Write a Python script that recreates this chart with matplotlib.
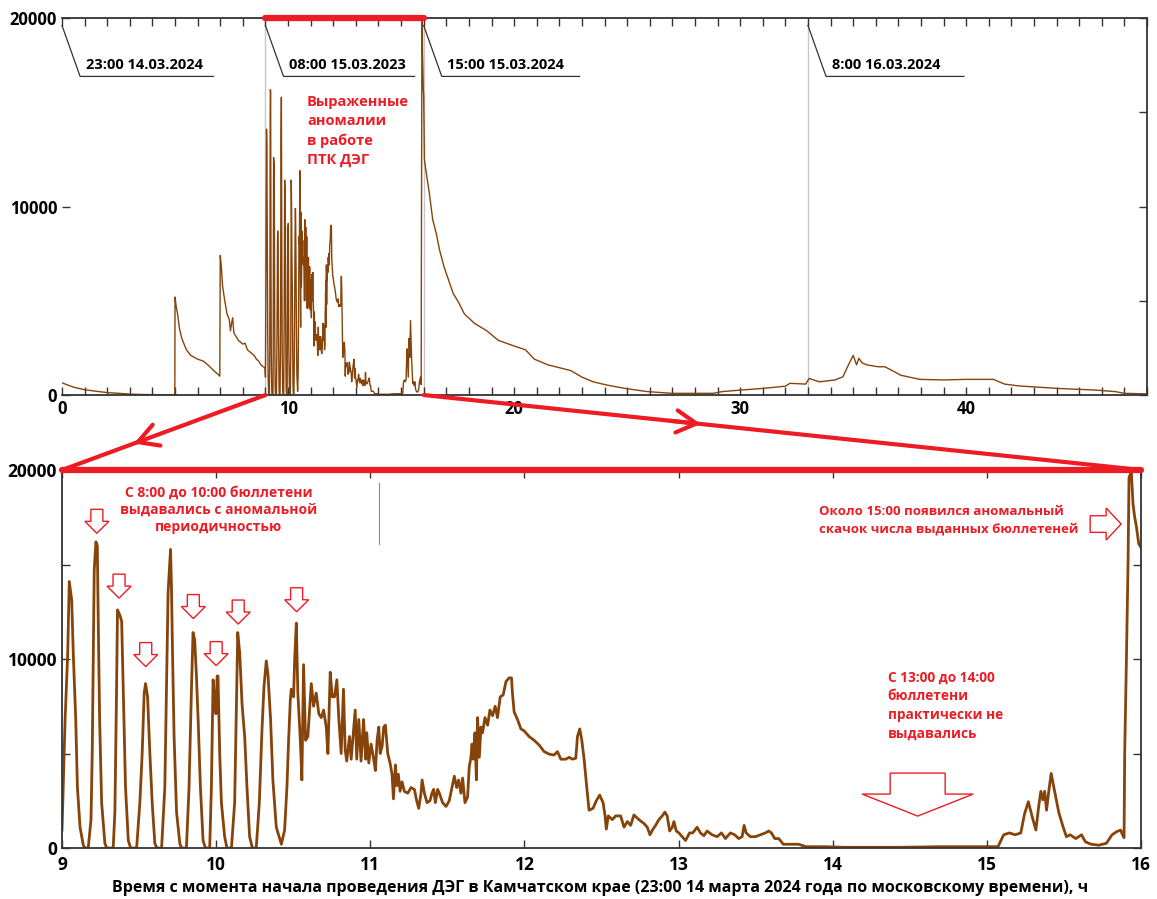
import matplotlib.pyplot as plt
from matplotlib.patches import FancyArrowPatch, Polygon
from matplotlib.lines import Line2D
from matplotlib.transforms import Affine2D

plt.rcParams['font.family'] = ['Open Sans', 'DejaVu Sans']

RED = '#ed1c24'
BROWN = '#86430a'

# часы от начала ДЭГ, 0..9
early_hours = [0.0, 0.1, 0.5, 1.0, 1.5, 2.0, 2.5, 3.0, 3.5, 4.0, 4.5, 4.99,
               5.0, 5.05, 5.1, 5.2, 5.3, 5.4, 5.5, 5.7, 6.0, 6.25, 6.5, 6.75, 6.9, 6.98,
               7.0, 7.05, 7.1, 7.2, 7.3, 7.4, 7.45, 7.5, 7.55, 7.6, 7.7, 7.8, 7.9, 8.0,
               8.1, 8.2, 8.3, 8.4, 8.5, 8.6, 8.7, 8.8, 8.9, 8.98]
early_votes = [650, 600, 420, 280, 200, 130, 90, 50, 30, 20, 10, 10,
               5200, 4700, 4400, 3500, 3000, 2700, 2400, 2100, 1900, 1800, 1550, 1250, 1100, 1000,
               7400, 6800, 5800, 5000, 4300, 4000, 3400, 3800, 4100, 3300, 3100, 2900, 2800, 2700,
               2750, 2400, 2300, 2200, 2100, 1900, 1800, 1600, 1500, 1450]

# 9..16 ч (нижний график)
zoom_hours = [
    9.000, 9.005, 9.020, 9.037, 9.047, 9.063, 9.073, 9.089, 9.100, 9.117, 9.138, 9.150, 9.170,
    9.188, 9.196, 9.203, 9.209, 9.220, 9.229, 9.235, 9.244, 9.257, 9.278, 9.290, 9.332,
    9.343, 9.354, 9.360, 9.376, 9.387, 9.397, 9.412, 9.430, 9.445, 9.484,
    9.505, 9.520, 9.533, 9.542, 9.555, 9.570, 9.585, 9.602, 9.615, 9.646,
    9.667, 9.678, 9.688, 9.704, 9.710, 9.717, 9.727, 9.743, 9.764, 9.775, 9.807,
    9.824, 9.840, 9.850, 9.861, 9.872, 9.883, 9.898, 9.915, 9.930, 9.958,
    9.969, 9.980, 9.990, 9.999, 10.006, 10.012, 10.023, 10.034, 10.055, 10.070, 10.099,
    10.120, 10.130, 10.140, 10.153, 10.168, 10.185, 10.200, 10.217, 10.235, 10.260,
    10.280, 10.297, 10.310, 10.325, 10.336, 10.353, 10.368, 10.390, 10.423, 10.444,
    10.459, 10.470, 10.481, 10.487, 10.502, 10.509, 10.520, 10.530, 10.546, 10.556,
    10.567, 10.580, 10.595, 10.617, 10.632, 10.649, 10.666, 10.682, 10.697, 10.714,
    10.725, 10.740, 10.753, 10.768, 10.783, 10.796, 10.811, 10.826, 10.837, 10.847,
    10.865, 10.876, 10.886, 10.902, 10.912, 10.925, 10.940, 10.956, 10.970, 10.977,
    10.990, 11.005, 11.020, 11.033, 11.044, 11.055, 11.064, 11.077, 11.087, 11.098,
    11.113, 11.128, 11.141, 11.150, 11.163, 11.171, 11.182, 11.193, 11.206, 11.221,
    11.243, 11.264, 11.286, 11.301, 11.314, 11.329, 11.336, 11.351, 11.368, 11.387,
    11.400, 11.411, 11.422, 11.437, 11.448, 11.469, 11.491, 11.512, 11.530, 11.545,
    11.560, 11.573, 11.588, 11.599, 11.614, 11.631, 11.642, 11.653, 11.660, 11.668,
    11.679, 11.688, 11.696, 11.707, 11.718, 11.728, 11.744, 11.761, 11.776, 11.793,
    11.810, 11.825, 11.843, 11.862, 11.880, 11.900, 11.916, 11.922, 11.933, 11.955,
    11.977, 11.998, 12.030, 12.063, 12.095, 12.128, 12.160, 12.192, 12.214, 12.236,
    12.268, 12.290, 12.311, 12.333, 12.344, 12.359, 12.372, 12.387, 12.402, 12.419,
    12.445, 12.466, 12.488, 12.510, 12.523, 12.531, 12.544, 12.570, 12.592, 12.624,
    12.646, 12.667, 12.689, 12.710, 12.743, 12.775, 12.797, 12.814, 12.834, 12.851,
    12.872, 12.894, 12.911, 12.926, 12.942, 12.959, 12.970, 12.985, 13.002, 13.023,
    13.045, 13.071, 13.092, 13.120, 13.142, 13.164, 13.185, 13.217, 13.250, 13.278,
    13.304, 13.336, 13.364, 13.390, 13.412, 13.425, 13.438, 13.466, 13.498, 13.531,
    13.563, 13.585, 13.602, 13.624, 13.650, 13.679, 13.778, 13.827, 13.950, 14.074,
    14.443, 14.690, 14.985, 15.072, 15.109, 15.146, 15.183, 15.220, 15.244, 15.269,
    15.294, 15.318, 15.336, 15.350, 15.363, 15.375, 15.387, 15.400, 15.417, 15.437,
    15.466, 15.491, 15.516, 15.540, 15.577, 15.614, 15.639, 15.676, 15.725, 15.775,
    15.812, 15.843, 15.868, 15.880, 15.890, 15.894, 15.905, 15.916, 15.922, 15.937,
    15.948, 15.959, 15.970, 15.985, 16.000]
zoom_votes = [
    950, 2400, 6800, 10300, 14100, 13100, 10300, 6800, 3200, 1100, 150, 0, 0,
    1500, 5000, 10300, 14700, 16200, 16000, 12000, 6800, 2400, 250, 0, 0,
    1900, 8500, 12600, 12300, 12000, 8500, 3200, 400, 0, 0,
    2400, 5000, 8200, 8700, 8000, 5000, 2400, 250, 0, 0,
    3200, 8500, 13500, 15800, 13800, 10300, 5900, 1900, 250, 0, 0,
    3200, 8500, 11400, 11000, 9100, 6800, 3200, 400, 0, 0,
    3200, 8900, 7800, 7100, 9100, 9100, 5000, 2400, 600, 0, 0,
    2400, 6800, 11400, 10300, 7600, 5900, 3200, 600, 0, 0,
    2400, 6200, 8500, 9900, 9200, 6800, 3600, 1100, 200, 950,
    3200, 5700, 7800, 8400, 8000, 9900, 11900, 8200, 5700, 3600,
    9700, 5700, 5900, 8700, 7500, 8200, 7100, 6900, 7300, 6400,
    5000, 9300, 8000, 8000, 8900, 6800, 5000, 8400, 5200, 4600,
    5900, 4700, 5700, 7300, 4700, 6800, 4600, 6800, 4700, 6100,
    4500, 5500, 4800, 4100, 5700, 6400, 5000, 5400, 6400, 6500,
    5000, 4500, 3900, 2600, 4400, 3300, 3900, 3000, 3500, 3000,
    2900, 3200, 3100, 2500, 2100, 2900, 3600, 2900, 2400, 2500,
    2900, 3100, 2400, 3100, 2900, 2400, 2200, 2500, 3200, 3800,
    3200, 3600, 2900, 3700, 2400, 2700, 4300, 4800, 5500, 4700,
    6100, 3600, 6900, 4800, 6400, 6100, 6900, 6500, 7300, 7000,
    7500, 6900, 8000, 8100, 8800, 9000, 9000, 8200, 7200, 6800,
    6300, 6200, 5900, 5700, 5450, 5100, 4970, 4920, 5100, 4700,
    4700, 4800, 4700, 4750, 5900, 6300, 5700, 4700, 3400, 2000,
    2100, 2500, 2800, 2400, 1700, 1000, 1700, 1500, 1700, 1700,
    1100, 1400, 1200, 1750, 1500, 1300, 1100, 700, 1000, 1200,
    1500, 1700, 1900, 1700, 900, 1100, 1400, 900, 800, 600,
    400, 800, 800, 1100, 800, 650, 900, 700, 600, 800,
    500, 800, 700, 500, 600, 1200, 800, 600, 600, 700,
    800, 900, 800, 500, 500, 200, 200, 70, 70, 40,
    40, 70, 70, 70, 700, 800, 700, 800, 1800, 2450,
    1650, 950, 2200, 3000, 2550, 3000, 2000, 2900, 3950, 3100,
    1900, 1200, 600, 700, 500, 700, 330, 200, 150, 250,
    700, 870, 950, 700, 550, 5000, 9900, 15200, 19600, 19900,
    18200, 17500, 17000, 16100, 15900]

# после 16 ч
late_hours = [16.03, 16.1, 16.25, 16.4, 16.55, 16.7, 16.9, 17.1, 17.3, 17.55, 17.8, 18.25,
              18.8, 19.3, 20.0, 20.5, 20.9, 21.5, 22.0, 22.5, 23.0, 23.5, 24.1, 24.9,
              25.9, 27.0, 28.8, 29.2, 30.0, 31.0, 32.0, 32.2, 32.9, 33.05, 33.5, 34.2,
              34.55, 34.75, 35.0, 35.15, 35.25, 35.4, 35.6, 36.1, 36.4, 36.8, 37.1, 37.95,
              39.0, 40.0, 41.2, 41.7, 42.35, 44.05, 45.75, 46.6, 47.0, 48.0]
late_votes = [12500, 11900, 10700, 9300, 8600, 7700, 6800, 6100, 5400, 4900, 4300, 3800,
              3400, 2900, 2600, 2400, 1900, 1600, 1450, 1300, 950, 700, 530, 350,
              180, 90, 90, 180, 260, 350, 470, 620, 580, 880, 700, 800,
              970, 1500, 2100, 1600, 1950, 1700, 1600, 1500, 1500, 1250, 1050, 830,
              800, 830, 830, 580, 480, 350, 260, 180, 90, 60]

all_hours = early_hours + zoom_hours + late_hours
all_votes = early_votes + zoom_votes + late_votes

callout_hours = [0, 9, 16, 33]
callout_labels = ['23:00 14.03.2024', '08:00 15.03.2023', '15:00 15.03.2024', '8:00 16.03.2024']
callout_len = [5.9, 5.8, 6.1, 6.1]

arrow_hours = [9.226, 9.370, 9.543, 9.852, 10.0, 10.143, 10.522]
arrow_votes = [16650, 13220, 9600, 12140, 9650, 11850, 12500]

xlabel = ('Время с момента начала проведения ДЭГ в Камчатском крае '
          '(23:00 14 марта 2024 года по московскому времени), ч')

fig = plt.figure(figsize=(11.57, 8.99), dpi=100)
ax1 = fig.add_axes([0.0536, 0.5606, 0.9378, 0.4194])
ax2 = fig.add_axes([0.0536, 0.0567, 0.9326, 0.4205])

# ---- верхний график
for h in [9, 16, 33]:
    ax1.axvline(h, color='#c8c8c8', lw=1, zorder=0)
ax1.plot(all_hours, all_votes, color=BROWN, lw=1.0)
ax1.set_xlim(0, 48)
ax1.set_ylim(0, 20000)
ax1.set_xticks([0, 10, 20, 30, 40])
ax1.set_xticks(range(0, 49), minor=True)
ax1.set_yticks([0, 10000, 20000])
ax1.set_yticks([5000, 15000], minor=True)
ax1.spines['left'].set_visible(False)
for s in ['top', 'right', 'bottom']:
    ax1.spines[s].set_linewidth(1.3)
    ax1.spines[s].set_color('#333333')
ax1.tick_params(which='both', direction='in', top=True, bottom=True, length=6, width=1,
                color='#333333', labelsize=12)
ax1.tick_params(axis='y', which='major', left=True, right=True)
ax1.tick_params(axis='y', which='minor', left=False, right=True)
for lab in ax1.get_xticklabels() + ax1.get_yticklabels():
    lab.set_fontweight('bold')

for h, lab, L in zip(callout_hours, callout_labels, callout_len):
    ax1.plot([h, h + 0.8, h + 0.8 + L], [19600, 16900, 16900], color='#333333', lw=0.9,
             clip_on=False)
    ax1.text(h + 1.05, 17150, lab, fontsize=10.5, fontweight='bold', va='bottom', ha='left')

ax1.plot([9, 16], [20000, 20000], color=RED, lw=4.5, solid_capstyle='round', clip_on=False,
         zorder=5)
ax1.text(10.84, 15900, 'Выраженные\nаномалии\nв работе\nПТК ДЭГ', color=RED, fontsize=10.5,
         fontweight='bold', va='top', ha='left', linespacing=1.45)

# ---- нижний график
ax2.plot(zoom_hours, zoom_votes, color=BROWN, lw=2.0)
ax2.set_xlim(9, 16)
ax2.set_ylim(0, 20000)
ax2.set_xticks(range(9, 17))
ax2.set_yticks([0, 10000, 20000])
ax2.set_yticks([5000, 15000], minor=True)
for s in ax2.spines.values():
    s.set_linewidth(1.3)
    s.set_color('#333333')
ax2.tick_params(which='both', direction='in', top=True, bottom=True, left=True, right=True,
                length=6, width=1, color='#333333', labelsize=12.5)
ax2.tick_params(axis='x', pad=6)
for lab in ax2.get_xticklabels() + ax2.get_yticklabels():
    lab.set_fontweight('bold')

ax2.plot([9, 16], [20000, 20000], color=RED, lw=4.5, solid_capstyle='round', clip_on=False,
         zorder=5)
ax2.plot([11.056, 11.056], [16080, 19310], color=RED, lw=0.8, alpha=0.7)

ax2.text(10.015, 19150, 'С 8:00 до 10:00 бюллетени\nвыдавались с аномальной\nпериодичностью',
         color=RED, fontsize=10, fontweight='bold', ha='center', va='top', linespacing=1.25)
ax2.text(13.909, 18150, 'Около 15:00 появился аномальный\nскачок числа выданных бюллетеней',
         color=RED, fontsize=9.5, fontweight='bold', ha='left', va='top', linespacing=1.45)
ax2.text(14.357, 9400, 'С 13:00 до 14:00\nбюллетени\nпрактически не\nвыдавались',
         color=RED, fontsize=9.8, fontweight='bold', ha='left', va='top', linespacing=1.45)


def block_arrow(x, y, verts):
    px, py = ax2.transData.transform((x, y))
    fig.add_artist(Polygon(verts, closed=True, facecolor='white', edgecolor=RED, lw=1,
                           transform=Affine2D().translate(px, py)))


small_down = [(0, 0), (-12, 12), (-6, 12), (-6, 24), (6, 24), (6, 12), (12, 12)]
for h, v in zip(arrow_hours, arrow_votes):
    block_arrow(h, v, small_down)
block_arrow(15.871, 17140, [(0, 0), (-15, 16), (-15, 8.3), (-31, 8.3), (-31, -8.3),
                            (-15, -8.3), (-15, -16)])
block_arrow(14.551, 1690, [(0, 0), (-55.5, 22), (-27.5, 22), (-27.5, 43), (27.5, 43),
                           (27.5, 22), (55.5, 22)])

# ---- красные линии связи
inv = fig.transFigure.inverted()
for h, t in [(9, 0.66), (16, 0.39)]:
    a = inv.transform(ax1.transData.transform((h, 0)))
    b = inv.transform(ax2.transData.transform((h, 20000)))
    fig.add_artist(Line2D([a[0], b[0]], [a[1], b[1]], color=RED, lw=3,
                          transform=fig.transFigure, solid_capstyle='round'))
    tip = a + t * (b - a)
    back = a + (t - 0.05) * (b - a)
    fig.add_artist(FancyArrowPatch(back, tip, transform=fig.transFigure,
                                   arrowstyle='->,head_length=0.9,head_width=0.5',
                                   mutation_scale=16, color=RED, lw=3))

fig.text(0.519, 0.0125, xlabel, ha='center', va='center', fontsize=11.5, fontweight='bold')

plt.savefig('out.png', dpi=100)
